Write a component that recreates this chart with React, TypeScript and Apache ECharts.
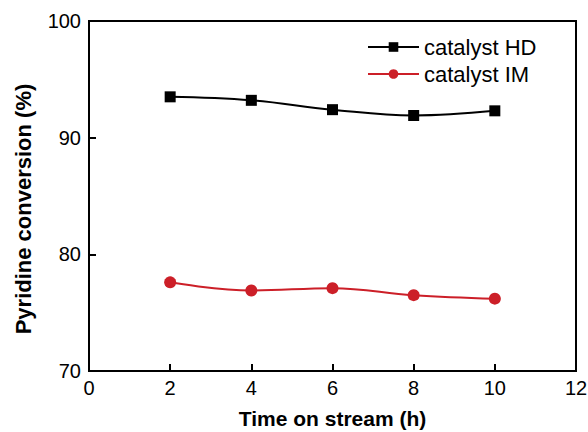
import React, { useEffect, useRef } from "react";
import * as echarts from "echarts";

const hours = [2, 4, 6, 8, 10];
const catalystHD = [93.5, 93.2, 92.4, 91.9, 92.3];
const catalystIM = [77.6, 76.9, 77.1, 76.5, 76.2];
const seriesNames = ["catalyst HD", "catalyst IM"];
const xTitle = "Time on stream (h)";
const yTitle = "Pyridine conversion (%)";

const FONT = "'Liberation Sans', Arial, Helvetica, sans-serif";

export default function App() {
  const ref = useRef<HTMLDivElement>(null);
  useEffect(() => {
    if (!ref.current) return;
    const chart = echarts.init(ref.current, undefined, { renderer: "svg" });
    chart.setOption({
      animation: false,
      backgroundColor: "#ffffff",
      textStyle: { fontFamily: FONT },
      grid: {
        left: 89,
        right: 12,
        top: 21,
        bottom: 61,
        containLabel: false,
        outerBoundsMode: "none",
        show: true,
        borderColor: "#000",
        borderWidth: 2,
        backgroundColor: "transparent",
      },
      legend: {
        orient: "vertical",
        left: 367,
        top: 36,
        padding: 0,
        itemWidth: 51,
        itemHeight: 12,
        itemGap: 5,
        textStyle: { fontSize: 22, color: "#000", fontFamily: FONT },
        data: seriesNames,
      },
      xAxis: {
        type: "value",
        min: 0,
        max: 12,
        interval: 2,
        name: xTitle,
        nameLocation: "middle",
        nameGap: 37,
        nameTextStyle: { fontSize: 21, fontWeight: "bold", color: "#000", fontFamily: FONT },
        axisLine: { show: true, lineStyle: { color: "#000", width: 2 } },
        axisTick: { show: true, inside: true, length: 7, lineStyle: { color: "#000", width: 2 } },
        axisLabel: { fontSize: 20, color: "#000", margin: 7, fontFamily: FONT },
        splitLine: { show: false },
      },
      yAxis: {
        type: "value",
        min: 70,
        max: 100,
        interval: 10,
        name: yTitle,
        nameLocation: "middle",
        nameGap: 55,
        nameTextStyle: {
          fontSize: 22,
          fontWeight: "bold",
          color: "#000",
          fontFamily: FONT,
          padding: [0, 26, 0, 0],
        },
        axisLine: { show: true, lineStyle: { color: "#000", width: 2 } },
        axisTick: { show: true, inside: true, length: 7, lineStyle: { color: "#000", width: 2 } },
        axisLabel: { fontSize: 20, color: "#000", margin: 8, fontFamily: FONT },
        splitLine: { show: false },
      },
      series: [
        {
          name: seriesNames[0],
          type: "line",
          smooth: 0.4,
          symbol: "rect",
          symbolSize: 11,
          data: hours.map((h, i) => [h, catalystHD[i]]),
          lineStyle: { color: "#000", width: 2 },
          itemStyle: { color: "#000" },
        },
        {
          name: seriesNames[1],
          type: "line",
          smooth: 0.4,
          symbol: "circle",
          symbolSize: 12,
          data: hours.map((h, i) => [h, catalystIM[i]]),
          lineStyle: { color: "#cc1f28", width: 2 },
          itemStyle: { color: "#cc1f28" },
        },
      ],
    });
    return () => chart.dispose();
  }, []);
  return <div ref={ref} style={{ width: 588, height: 432, position: "absolute", left: 0, top: 0 }} />;
}
